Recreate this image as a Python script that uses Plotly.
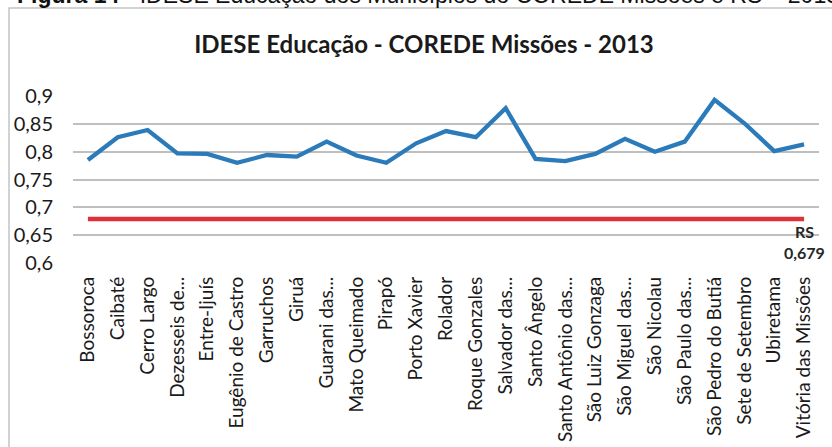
import plotly.graph_objects as go

municipios = [
    "Bossoroca", "Caibaté", "Cerro Largo", "Dezesseis de...", "Entre-Ijuís",
    "Eugênio de Castro", "Garruchos", "Giruá", "Guarani das...", "Mato Queimado",
    "Pirapó", "Porto Xavier", "Rolador", "Roque Gonzales", "Salvador das...",
    "Santo Ângelo", "Santo Antônio das...", "São Luiz Gonzaga", "São Miguel das...",
    "São Nicolau", "São Paulo das...", "São Pedro do Butiá", "Sete de Setembro",
    "Ubiretama", "Vitória das Missões",
]
idese_educacao = [
    0.785, 0.826, 0.839, 0.797, 0.796,
    0.780, 0.794, 0.791, 0.818, 0.793,
    0.780, 0.815, 0.837, 0.826, 0.878,
    0.787, 0.783, 0.796, 0.823,
    0.800, 0.818, 0.893, 0.851,
    0.801, 0.813,
]
rs_value = 0.679
rs_series = [rs_value] * len(municipios)
y_tickvals = [0.6, 0.65, 0.7, 0.75, 0.8, 0.85, 0.9]
y_ticktext = ["0,6", "0,65", "0,7", "0,75", "0,8", "0,85", "0,9"]

W, H = 832, 447
ML, MR, MT, MB = 73, 13, 96, 184
PW = W - ML - MR
PH = H - MT - MB

def px_x(p):
    return (p - ML) / PW

def px_y(p):
    return (H - MB - p) / PH

FONT = "Lato"

fig = go.Figure()
fig.add_trace(go.Scatter(
    x=municipios, y=idese_educacao, mode="lines",
    line=dict(color="#2B7BBA", width=4.3), showlegend=False,
))
fig.add_trace(go.Scatter(
    x=municipios, y=rs_series, mode="lines",
    line=dict(color="#E0313A", width=4.3), showlegend=False,
))

fig.add_annotation(
    x=municipios[-1], y=rs_value, xref="x", yref="y",
    text="<b>RS</b><br><b>" + f"{rs_value:.3f}".replace(".", ",") + "</b>",
    showarrow=False, xanchor="center", yanchor="top", align="center",
    xshift=0, yshift=-1,
    font=dict(family=FONT, size=16, color="#262626"),
)

caption = "<b>Figura 14</b> - IDESE Educação dos Municípios do COREDE Missões e RS – 2013"
fig.add_annotation(
    x=px_x(15), y=px_y(10), xref="paper", yref="paper",
    text=caption, showarrow=False, xanchor="left", yanchor="bottom",
    font=dict(family="Liberation Sans", size=23, color="#111111"),
)

fig.add_shape(
    type="rect", xref="paper", yref="paper",
    x0=px_x(9), x1=px_x(860), y0=px_y(8), y1=px_y(480),
    line=dict(color="#C4C4C4", width=1.5), fillcolor="rgba(0,0,0,0)",
    layer="below",
)

fig.update_layout(
    width=W, height=H,
    margin=dict(l=ML, r=MR, t=MT, b=MB, autoexpand=False),
    paper_bgcolor="white", plot_bgcolor="white",
    title=dict(
        text="<b>IDESE Educação - COREDE Missões - 2013</b>",
        x=424 / W, xanchor="center", y=1 - 45 / H, yanchor="middle",
        font=dict(family=FONT, size=24, color="#1a1a1a"),
    ),
    xaxis=dict(
        type="category", range=[-0.5, len(municipios) - 0.5],
        tickangle=-90, showgrid=False, showline=False, ticks="",
        tickfont=dict(family=FONT, size=19, color="#1a1a1a"),
        ticklabelstandoff=9, automargin=False,
    ),
    yaxis=dict(
        range=[0.6, 0.9], tickvals=y_tickvals, ticktext=y_ticktext,
        showgrid=True, gridcolor="#BFBFBF", gridwidth=1.6,
        zeroline=False, showline=False, ticks="",
        tickfont=dict(family=FONT, size=20, color="#1a1a1a"),
        ticklabelstandoff=19, automargin=False,
    ),
)

fig.write_html(
    "out.html",
    config={"displayModeBar": False},
    post_script="document.body.style.margin='0';document.body.style.overflow='hidden';",
)
